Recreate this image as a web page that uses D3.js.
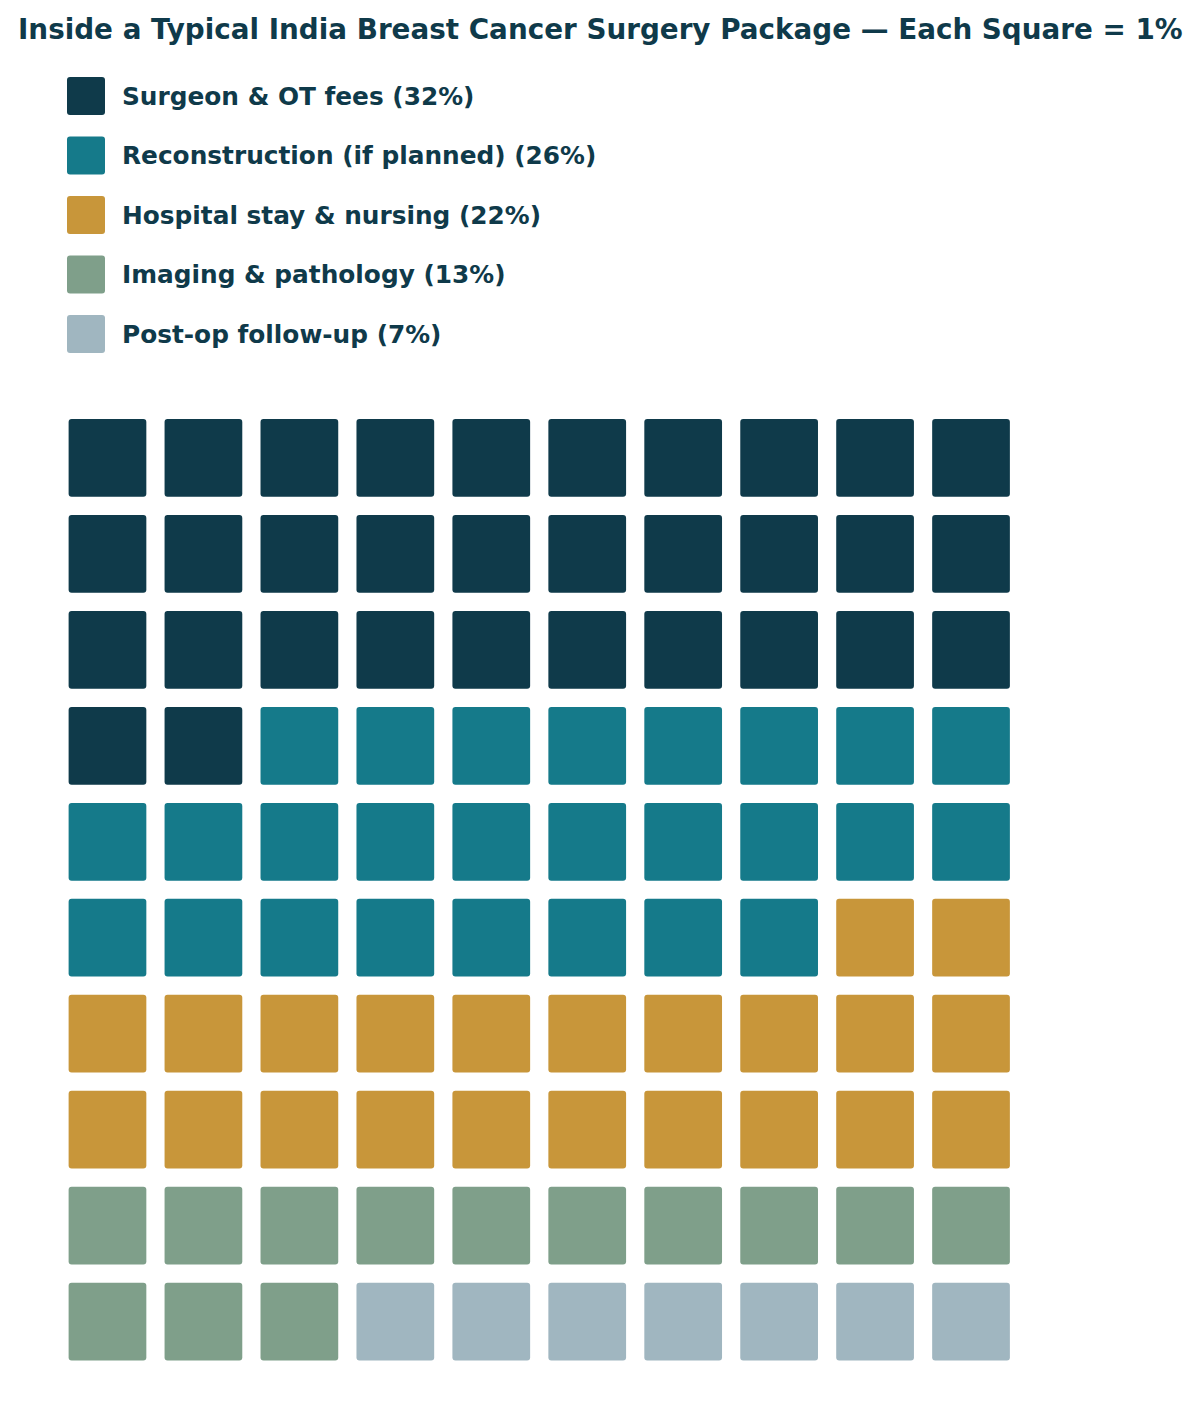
<!DOCTYPE html>
<html><head><meta charset="utf-8">
<script src="https://cdn.jsdelivr.net/npm/d3@7"></script>
<style>body{margin:0;background:#fff}svg{display:block}</style>
</head><body>
<script>
const categories = ["Surgeon & OT fees", "Reconstruction (if planned)", "Hospital stay & nursing", "Imaging & pathology", "Post-op follow-up"];
const shares = [32, 26, 22, 13, 7];
const colors = ["#0f3a4a", "#157a8a", "#c8963a", "#7f9f8a", "#a0b6c0"];
const titleText = "Inside a Typical India Breast Cancer Surgery Package \u2014 Each Square = 1%";

const W = 1200, H = 1409, ink = "#0f3a4a";
const svg = d3.select("body").append("svg").attr("width", W).attr("height", H);
svg.append("rect").attr("width", W).attr("height", H).attr("fill", "#fff");

svg.append("text").attr("x", 18).attr("y", 38.5)
  .attr("font-family", "DejaVu Sans").attr("font-weight", "bold").attr("font-size", 27.8)
  .attr("fill", ink).text(titleText);

// legend
const ly = d3.scalePoint().domain(categories).range([96, 334]);
const lg = svg.append("g");
categories.forEach((c, i) => {
  lg.append("rect").attr("x", 67).attr("y", ly(c) - 19).attr("width", 38).attr("height", 38)
    .attr("rx", 3).attr("fill", colors[i]);
  lg.append("text").attr("x", 122).attr("y", ly(c) + 8.5)
    .attr("font-family", "DejaVu Sans").attr("font-weight", "bold").attr("font-size", 24.8)
    .attr("fill", ink).text(`${c} (${shares[i]}%)`);
});

// waffle cells
const cells = [];
shares.forEach((s, i) => { for (let k = 0; k < s; k++) cells.push(i); });
const idx = d3.range(10);
const x = d3.scaleBand().domain(idx).range([59.5, 1019]).paddingInner(0.19).paddingOuter(0.095);
const y = d3.scaleBand().domain(idx).range([410, 1369.5]).paddingInner(0.19).paddingOuter(0.095);
svg.append("g").selectAll("rect").data(cells).join("rect")
  .attr("x", (d, i) => x(i % 10)).attr("y", (d, i) => y(Math.floor(i / 10)))
  .attr("width", x.bandwidth()).attr("height", y.bandwidth())
  .attr("rx", 3).attr("fill", d => colors[d]);
</script>
</body></html>
